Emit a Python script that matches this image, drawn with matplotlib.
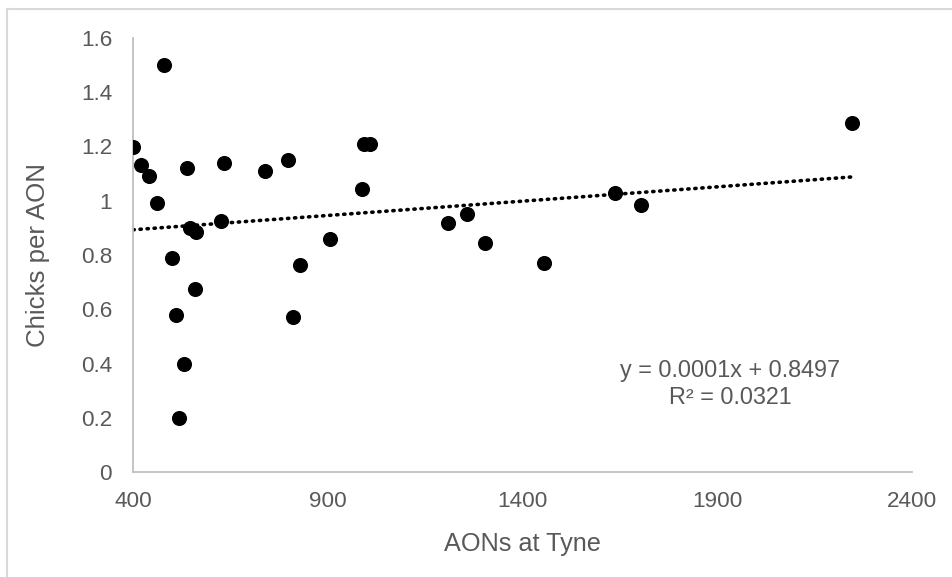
import numpy as np
import matplotlib
matplotlib.use("Agg")
import matplotlib.pyplot as plt
from matplotlib.lines import Line2D

plt.rcParams["font.family"] = ["Liberation Sans", "DejaVu Sans"]

# AONs at Tyne vs chicks per AON
aons = [400, 420, 440, 461, 480, 500, 510, 519, 531, 539,
        546, 559, 562, 626, 633, 740, 797, 812, 828, 907,
        987, 992, 1008, 1209, 1257, 1303, 1456, 1637, 1704, 2247]
chicks = [1.20, 1.13, 1.09, 0.99, 1.50, 0.79, 0.58, 0.20, 0.40, 1.12,
          0.90, 0.675, 0.885, 0.925, 1.14, 1.11, 1.15, 0.573, 0.763, 0.858,
          1.045, 1.21, 1.21, 0.917, 0.950, 0.845, 0.770, 1.030, 0.984, 1.285]

x_ticks = [400, 900, 1400, 1900, 2400]
y_ticks = [0, 0.2, 0.4, 0.6, 0.8, 1.0, 1.2, 1.4, 1.6]
y_tick_labels = ["0", "0.2", "0.4", "0.6", "0.8", "1", "1.2", "1.4", "1.6"]

TEXT_GREY = "#595959"
AXIS_GREY = "#bfbfbf"

fig = plt.figure(figsize=(9.52, 5.77), dpi=100)
ax = fig.add_axes([133 / 952, 1 - 472 / 577, (912 - 133) / 952, (472 - 38) / 577])

ax.scatter(aons, chicks, s=118, color="black", zorder=3, linewidths=0)

# linear trendline over the data range
slope, intercept = np.polyfit(aons, chicks, 1)
fit_x = np.array([min(aons), max(aons)])
ax.plot(fit_x, slope * fit_x + intercept, color="black", lw=2.6,
        linestyle=(0, (0.35, 1.6)), dash_capstyle="round", zorder=2)

ax.text(1933, 0.324, "y = 0.0001x + 0.8497\nR\u00b2 = 0.0321", ha="center",
        va="center", fontsize=16.8, color=TEXT_GREY, linespacing=1.2)

ax.set_xlim(400, 2400)
ax.set_ylim(0, 1.6)
ax.set_xticks(x_ticks)
ax.set_yticks(y_ticks)
ax.set_yticklabels(y_tick_labels)
ax.tick_params(length=0, labelsize=16.2, colors=TEXT_GREY)
ax.tick_params(axis="x", pad=14)
ax.tick_params(axis="y", pad=15)

for side in ("top", "right"):
    ax.spines[side].set_visible(False)
for side in ("left", "bottom"):
    ax.spines[side].set_color(AXIS_GREY)
    ax.spines[side].set_linewidth(1.3)

ax.set_xlabel("AONs at Tyne", fontsize=18.2, color=TEXT_GREY, labelpad=14)
ax.set_ylabel("Chicks per AON", fontsize=18.6, color=TEXT_GREY, labelpad=22)

# chart-area frame (only left and top edges visible in the crop)
fig.add_artist(Line2D([7 / 952, 7 / 952], [0, 1 - 9 / 577], color="#d9d9d9",
                      lw=1.5, transform=fig.transFigure))
fig.add_artist(Line2D([7 / 952, 1], [1 - 9 / 577, 1 - 9 / 577], color="#d9d9d9",
                      lw=1.5, transform=fig.transFigure))

fig.savefig("out.png", dpi=100)
